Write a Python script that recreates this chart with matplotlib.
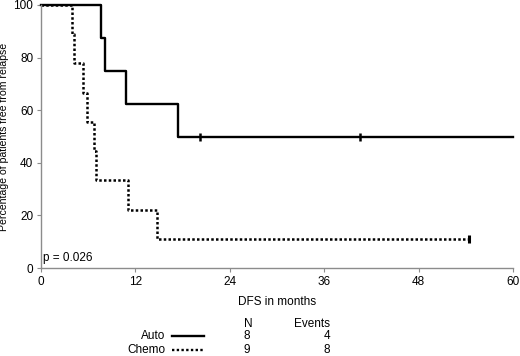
import matplotlib
matplotlib.use('Agg')
import matplotlib.pyplot as plt
from matplotlib.lines import Line2D

plt.rcParams['font.family'] = ['Liberation Sans', 'DejaVu Sans']

# Kaplan-Meier steps (months, % free from relapse)
auto_time = [0, 7.6, 8.1, 10.8, 17.4, 60]
auto_surv = [100, 87.5, 75, 62.5, 50, 50]
auto_censor_t = [20.2, 40.5]
auto_censor_s = [50, 50]

chemo_time = [0, 4.0, 4.2, 5.4, 5.8, 6.8, 7.0, 11.0, 14.7, 54.4]
chemo_surv = [100, 88.9, 77.8, 66.7, 55.6, 44.4, 33.3, 22.2, 11.1, 11.1]
chemo_censor_t = [54.4]
chemo_censor_s = [11.1]

groups = ['Auto', 'Chemo']
n_patients = [8, 9]
n_events = [4, 8]
x_ticks = [0, 12, 24, 36, 48, 60]
y_ticks = [0, 20, 40, 60, 80, 100]

fig = plt.figure(figsize=(5.2, 3.56), dpi=100)
ax = fig.add_axes([0.0788, 0.247, 0.9077, 0.739])

ax.step(auto_time, auto_surv, where='post', color='black', lw=1.7, clip_on=False)
ax.plot(auto_censor_t, auto_censor_s, ls='none', marker='|', ms=6, mew=1.8, color='black')
ax.step(chemo_time, chemo_surv, where='post', color='black', lw=1.8,
        ls=(0, (1, 0.9)), dash_capstyle='butt', clip_on=False)
ax.plot(chemo_censor_t, chemo_censor_s, ls='none', marker='|', ms=6, mew=2.2, color='black')

ax.set_xlim(0, 60)
ax.set_ylim(0, 100)
ax.set_xticks(x_ticks)
ax.set_yticks(y_ticks)
for s in ['top', 'right']:
    ax.spines[s].set_visible(False)
for s in ['left', 'bottom']:
    ax.spines[s].set_color('#8c8c8c')
    ax.spines[s].set_linewidth(1.0)
ax.tick_params(colors='#8c8c8c', labelcolor='black', labelsize=8.5, length=3, pad=2.5)
ax.set_xlabel('DFS in months', fontsize=8.5, labelpad=6)
ax.set_ylabel('Percentage of patients free from relapse', fontsize=7.6, labelpad=3)
ax.text(0.3, 1.5, 'p = 0.026', fontsize=8.5, ha='left', va='bottom')

# legend table under the plot
fig.text(244 / 520, 1 - 324 / 356, 'N', fontsize=8.5, ha='left', va='center')
fig.text(330 / 520, 1 - 324 / 356, 'Events', fontsize=8.5, ha='right', va='center')
row_y = [336, 350]
styles = ['-', (0, (1, 1))]
for g, n, e, y, st in zip(groups, n_patients, n_events, row_y, styles):
    yf = 1 - y / 356
    fig.text(165 / 520, yf, g, fontsize=8.5, ha='right', va='center')
    fig.add_artist(Line2D([172 / 520, 204 / 520], [yf, yf], color='black', lw=1.7,
                          ls=st, dash_capstyle='butt', transform=fig.transFigure))
    fig.text(244 / 520, yf, str(n), fontsize=8.5, ha='left', va='center')
    fig.text(330 / 520, yf, str(e), fontsize=8.5, ha='right', va='center')

fig.savefig('out.png', dpi=100)
